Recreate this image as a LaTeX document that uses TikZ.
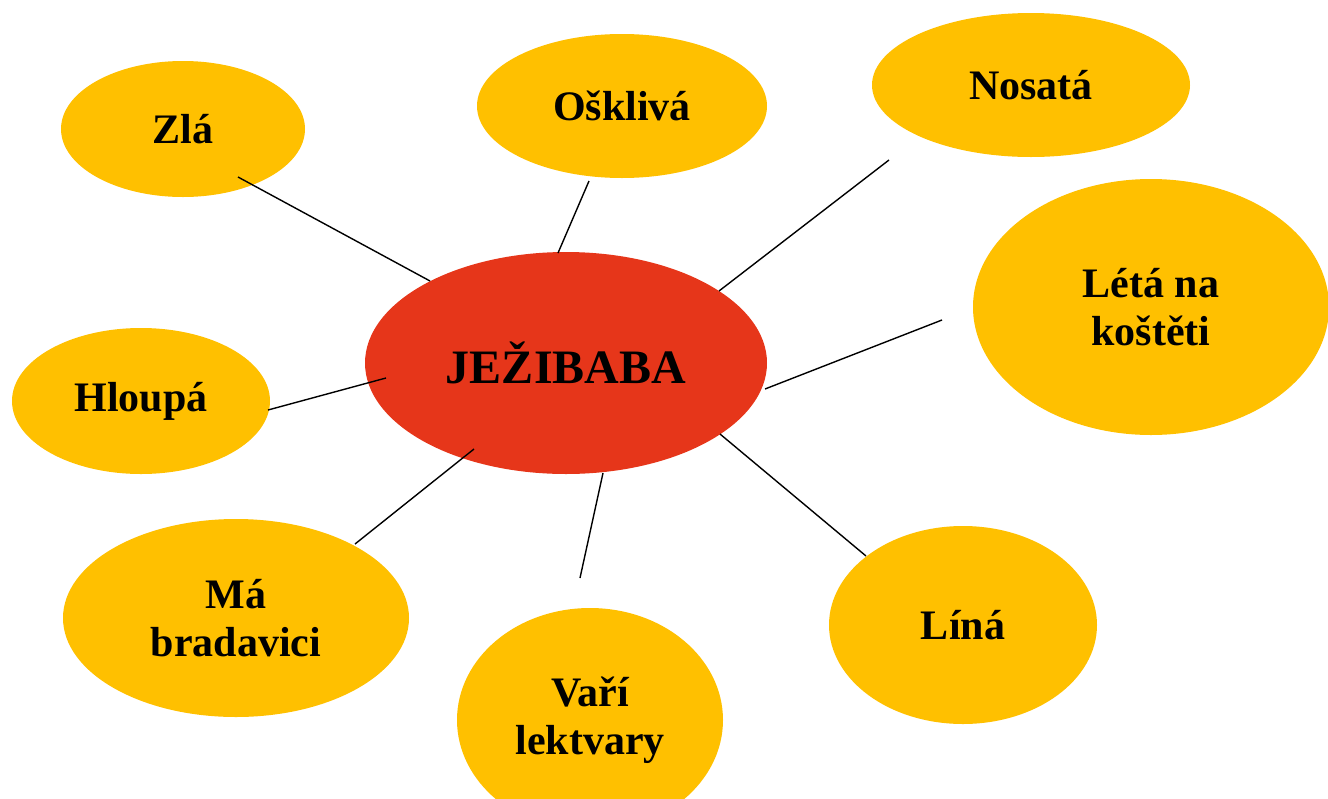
\documentclass[tikz,border=0pt]{standalone}
\usepackage{fontspec}
\setmainfont{Liberation Serif}
\usetikzlibrary{shapes.geometric}
\definecolor{bubble}{RGB}{255,192,0}
\definecolor{core}{RGB}{230,54,26}
\begin{document}
\begin{tikzpicture}[x=0.5pt,y=-0.5pt,
  bubble/.style={ellipse, fill=bubble, draw=none, inner sep=0pt, align=center,
    font=\fontsize{21}{24}\selectfont\bfseries},
  corebox/.style={ellipse, fill=core, draw=none, inner sep=0pt,
    font=\fontsize{24}{28}\selectfont\bfseries},
  link/.style={draw=black, line width=0.7pt}]
\useasboundingbox (0,0) rectangle (1328,798);
\clip (0,0) rectangle (1328,798);
\node[bubble, minimum width=122pt, minimum height=68pt] (zla) at (183,129) {Zlá};
\node[bubble, minimum width=145pt, minimum height=72pt] (osk) at (622,106) {Ošklivá};
\node[bubble, minimum width=159pt, minimum height=72pt] (nos) at (1031,85) {Nosatá};
\node[bubble, minimum width=178pt, minimum height=128pt] (let) at (1151,307) {Létá na\\koštěti};
\node[bubble, minimum width=129pt, minimum height=73pt] (hlo) at (141,401) {Hloupá};
\node[bubble, minimum width=173pt, minimum height=99pt] (ma) at (236,618) {Má\\bradavici};
\node[bubble, minimum width=133pt, minimum height=112pt] (var) at (590,720) {Vaří\\lektvary};
\node[bubble, minimum width=134pt, minimum height=99pt] (lin) at (963,625) {Líná};
\node[corebox, minimum width=201pt, minimum height=111pt] (jez) at (566,363) {JEŽIBABA};
\coordinate (zla-e) at (238,177);  \coordinate (jez-zla) at (430,281);
\coordinate (osk-e) at (589,181);  \coordinate (jez-osk) at (558,253);
\coordinate (nos-e) at (889,160);  \coordinate (jez-nos) at (719,291);
\coordinate (let-e) at (942,320);  \coordinate (jez-let) at (765,389);
\coordinate (hlo-e) at (268,410);  \coordinate (jez-hlo) at (386,378);
\coordinate (ma-e) at (355,544);   \coordinate (jez-ma) at (474,449);
\coordinate (var-e) at (580,578);  \coordinate (jez-var) at (603,473);
\coordinate (lin-e) at (866,556);  \coordinate (jez-lin) at (720,434);
\draw[link] (zla-e) -- (jez-zla);
\draw[link] (osk-e) -- (jez-osk);
\draw[link] (nos-e) -- (jez-nos);
\draw[link] (let-e) -- (jez-let);
\draw[link] (hlo-e) -- (jez-hlo);
\draw[link] (ma-e) -- (jez-ma);
\draw[link] (var-e) -- (jez-var);
\draw[link] (lin-e) -- (jez-lin);
\end{tikzpicture}
\end{document}
